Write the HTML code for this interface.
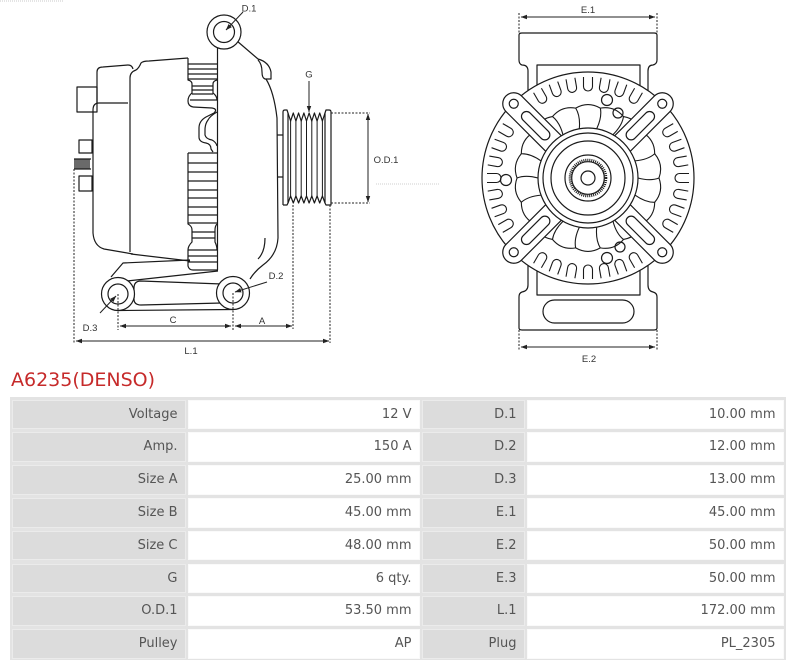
<!DOCTYPE html>
<html><head><meta charset="utf-8"><style>
html,body{margin:0;padding:0;background:#fff;}
body{width:800px;height:667px;position:relative;overflow:hidden;font-family:"DejaVu Sans","Liberation Sans",sans-serif;}
.title{position:absolute;left:11px;top:370.6px;font-size:19px;line-height:19px;color:#c62a2a;white-space:nowrap;}
.frame{position:absolute;left:10px;top:397px;width:776px;height:263px;background:#e3e3e3;}
.r{position:absolute;left:0;width:800px;height:29.8px;}
.c{position:absolute;top:0;height:29.8px;box-sizing:border-box;line-height:27.8px;text-align:right;padding-right:7.5px;font-size:13px;color:#555;white-space:nowrap;}
.l{background:#dcdcdc;border:1px solid #ebebeb;}
.v{background:#fff;border:1px solid #fafafa;}
.c1{left:12px;width:174px;}
.c2{left:188px;width:232px;}
.c3{left:422px;width:103px;}
.c4{left:527px;width:257px;}
svg text{font-family:"Liberation Sans","DejaVu Sans",sans-serif;font-size:9.5px;fill:#333;}
</style></head><body>

<svg width="800" height="365" viewBox="0 0 800 365" style="position:absolute;left:0;top:0">
<defs>
<marker id="a" viewBox="0 0 10 10" refX="9.5" refY="5" markerWidth="6.5" markerHeight="6.5" orient="auto-start-reverse"><path d="M0,1.5 L10,5 L0,8.5z" fill="#222"/></marker>
<path id="slot" d="M-4.5,-101 L-4.5,-91.5 A4.5,4.5 0 0 0 4.5,-91.5 L4.5,-101"/>
<path id="blade" d="M-8.7,-49.2 Q-7.5,-62 -12.3,-69.9 Q0,-77 12.3,-69.9"/>
<g id="arm">
<path d="M-11,-44 L-11,-105 A11,11 0 0 1 11,-105 L11,-44" fill="#fff"/>
<circle cx="0" cy="-105" r="4.5" fill="#fff"/>
<rect x="-5" y="-92" width="10" height="36" rx="5" fill="#fff"/>
</g>
</defs>

<!-- faint marks -->
<path d="M0,1 L63,1" stroke="#c8c8c8" stroke-width="1" stroke-dasharray="1 1" fill="none"/>
<path d="M376,184 L440,184" stroke="#cfcfcf" stroke-width="1" stroke-dasharray="1 1" fill="none"/>

<!-- LEFT VIEW -->
<g fill="none" stroke="#1a1a1a" stroke-width="1.2" stroke-linejoin="round">
<rect x="77" y="87" width="20" height="25" fill="#fff"/>
<rect x="79" y="140" width="13" height="13"/>
<rect x="79" y="176" width="13" height="15"/>
<path d="M74,159 L91,159 M74,169 L91,169 M75,159 L75,169 M77,159 L77,169 M79,159 L79,169 M81,159 L81,169 M83,159 L83,169 M85,159 L85,169 M87,159 L87,169 M89,159 L89,169" stroke-width="1.3"/>
<path d="M97,103 L97,72 Q97,67 103,67 L128,65 Q132,65 133,69"/>
<path d="M128,103 L99,103 Q93,103 93,110 L93,233 Q94,246 104,249 L133,254"/>
<path d="M130,252 L130,78 Q130,72 136,70 Q139,68 141,63 Q143,61 149,61 L188,58"/>
<path d="M131,254 L190,261"/>
<path d="M188,58 L188,80 Q192,81 192,84 L192,93 Q188,96 188,101 Q188,106 193,107"/>
<path d="M188,64 L217,64 M188,69 L217,69 M188,74 L217,74 M188,79 L217,79 M192,86 L213,86 M192,90 L213,90 M192,94 L213,94 M190,100 L217,100"/>
<path d="M217,80 Q213,81 213,84 L213,93 Q217,96 217,100"/>
<path d="M193,107 L212,108 Q218,109 214,113 L206,117 Q199,121 199,128 L199,137 Q199,142 206,143 Q211,144 211,149 L213,152"/>
<path d="M217,112 Q210,116 208,120 Q205,124 205,130 L205,135 Q206,139 212,140 Q216,142 217,146"/>
<path d="M188,153 L188,224 Q192,226 192,230 L192,242 Q188,246 188,250 L188,266 Q189,270 193,270 L218,270"/>
<path d="M188,153 L217,153 M188,163 L217,163 M188,172 L217,172 M188,181 L217,181 M188,190 L217,190 M188,198 L217,198 M188,207 L217,207 M188,215 L217,215 M188,223 L217,223 M192,232 L215,232 M192,238 L215,238 M188,250 L217,250 M188,256 L217,256 M188,262 L217,262"/>
<path d="M217,224 Q215,226 215,230 L215,242 Q217,246 217,250"/>
<path d="M217.5,47 L217.5,270"/>
<path d="M237,41 L258,59 Q269,62 271,72 L271,79 L265,79 Q262,78 262,72 Q262,64 258,60"/>
<path d="M266,79 Q274,92 277,118 L278,238 Q277,255 263,265 Q255,271 250,279"/>
<path d="M265,238 Q265,252 258,259"/>
<path d="M277,135 L283,135 M277,177 L283,177"/>
<path d="M283,205 L283,112 Q283,110 285,110 L287,110 L288,113 L288,203 L287,205 L283,205" fill="#fff"/>
<path d="M325,113 L326,110 L329,110 Q331,110 331,112 L331,205 L326,205 L325,203 Z" fill="#fff"/>
<path d="M288,113 L290.6,121 L293.3,113 L295.9,121 L298.6,113 L301.2,121 L303.9,113 L306.5,121 L309.1,113 L311.8,121 L314.4,113 L317.1,121 L319.7,113 L322.4,121 L325,113"/>
<path d="M288,203 L290.6,196 L293.3,203 L295.9,196 L298.6,203 L301.2,196 L303.9,203 L306.5,196 L309.1,203 L311.8,196 L314.4,203 L317.1,196 L319.7,203 L322.4,196 L325,203"/>
<path d="M290.6,121 L290.6,196 M295.9,121 L295.9,196 M301.2,121 L301.2,196 M306.5,121 L306.5,196 M311.8,121 L311.8,196 M317.1,121 L317.1,196 M322.4,121 L322.4,196" stroke-width="1"/>
<path d="M111,277 L123,263 L190,260"/>
<path d="M127,281 L218,271"/>
<path d="M222,284 L141,281 Q134,281 134,288 L134,299 Q134,305 141,305 L222,303"/>
<path d="M118,310.5 L233,309.5"/>
<circle cx="224" cy="32" r="17" fill="#fff"/>
<circle cx="224" cy="32" r="10.5"/>
<circle cx="118" cy="294" r="16.5" fill="#fff"/>
<circle cx="118" cy="294" r="10"/>
<circle cx="233" cy="293" r="16.5" fill="#fff"/>
<circle cx="233" cy="293" r="10"/>
</g>

<g fill="none" stroke="#222" stroke-width="1">
<path d="M74,169 L74,343 M330,205 L330,343 M293,205 L293,329 M233,293 L233,330 M118,294 L118,330 M331,113 L370,113 M331,203 L370,203" stroke-dasharray="2 1.5"/>
<path d="M76,341 L329,341" marker-start="url(#a)" marker-end="url(#a)"/>
<path d="M120,326 L231,326" marker-start="url(#a)" marker-end="url(#a)"/>
<path d="M235,326 L292,326" marker-start="url(#a)" marker-end="url(#a)"/>
<path d="M368,114 L368,202" marker-start="url(#a)" marker-end="url(#a)"/>
<path d="M309,81 L309,112" marker-end="url(#a)"/>
<path d="M243,12 L226,30" marker-end="url(#a)"/>
<path d="M267,282 L235,292" marker-end="url(#a)"/>
<path d="M100,313 L116,296" marker-end="url(#a)"/>
</g>
<text x="249" y="11.5" text-anchor="middle">D.1</text>
<text x="309" y="77.5" text-anchor="middle">G</text>
<text x="386" y="163" text-anchor="middle">O.D.1</text>
<text x="276" y="279" text-anchor="middle">D.2</text>
<text x="90" y="331" text-anchor="middle">D.3</text>
<text x="173" y="323" text-anchor="middle">C</text>
<text x="262" y="324" text-anchor="middle">A</text>
<text x="191" y="354" text-anchor="middle">L.1</text>

<!-- RIGHT VIEW -->
<g fill="none" stroke="#1a1a1a" stroke-width="1.2" stroke-linejoin="round">
<path d="M528,92 L528,71 Q528,65 522,65 Q519,64 519,60 L519,35 Q519,33 522,33 L654,33 Q657,33 657,35 L657,60 Q657,64 653,65 Q648,65 648,71 L648,92" fill="#fff"/>
<path d="M537,92 L537,65 L640,65 L640,92"/>
<path d="M528,262 L528,285 Q528,291 522,292 Q519,293 519,297 L519,328 Q519,330 522,330 L654,330 Q657,330 657,328 L657,297 Q657,293 653,292 Q648,291 648,285 L648,262" fill="#fff"/>
<path d="M537,262 L537,295 L640,295 L640,262"/>
<rect x="543" y="300" width="91" height="23" rx="11.5"/>
<circle cx="588" cy="178" r="106" fill="#fff"/>
<g transform="translate(588 178)" stroke-width="1.1">
<use href="#slot" transform="rotate(-30)"/><use href="#slot" transform="rotate(-20)"/><use href="#slot" transform="rotate(-10)"/><use href="#slot" transform="rotate(0)"/><use href="#slot" transform="rotate(10)"/><use href="#slot" transform="rotate(20)"/><use href="#slot" transform="rotate(30)"/>
<use href="#slot" transform="rotate(60)"/><use href="#slot" transform="rotate(70)"/><use href="#slot" transform="rotate(80)"/><use href="#slot" transform="rotate(90)"/><use href="#slot" transform="rotate(100)"/><use href="#slot" transform="rotate(110)"/><use href="#slot" transform="rotate(120)"/>
<use href="#slot" transform="rotate(150)"/><use href="#slot" transform="rotate(160)"/><use href="#slot" transform="rotate(170)"/><use href="#slot" transform="rotate(180)"/><use href="#slot" transform="rotate(190)"/><use href="#slot" transform="rotate(200)"/><use href="#slot" transform="rotate(210)"/>
<use href="#slot" transform="rotate(240)"/><use href="#slot" transform="rotate(250)"/><use href="#slot" transform="rotate(260)"/><use href="#slot" transform="rotate(270)"/><use href="#slot" transform="rotate(280)"/><use href="#slot" transform="rotate(290)"/><use href="#slot" transform="rotate(300)"/>
<use href="#blade" transform="rotate(0)"/><use href="#blade" transform="rotate(20)"/><use href="#blade" transform="rotate(40)"/><use href="#blade" transform="rotate(60)"/><use href="#blade" transform="rotate(80)"/><use href="#blade" transform="rotate(100)"/><use href="#blade" transform="rotate(120)"/><use href="#blade" transform="rotate(140)"/><use href="#blade" transform="rotate(160)"/><use href="#blade" transform="rotate(180)"/><use href="#blade" transform="rotate(200)"/><use href="#blade" transform="rotate(220)"/><use href="#blade" transform="rotate(240)"/><use href="#blade" transform="rotate(260)"/><use href="#blade" transform="rotate(280)"/><use href="#blade" transform="rotate(300)"/><use href="#blade" transform="rotate(320)"/><use href="#blade" transform="rotate(340)"/>
</g>
<circle cx="607" cy="100" r="5.5"/>
<circle cx="618" cy="113" r="5"/>
<circle cx="506" cy="180" r="5.5"/>
<circle cx="620" cy="247" r="5"/>
<circle cx="607" cy="258" r="5.5"/>
<g transform="translate(588 178)">
<use href="#arm" transform="rotate(-45)"/><use href="#arm" transform="rotate(45)"/><use href="#arm" transform="rotate(135)"/><use href="#arm" transform="rotate(225)"/>
<circle cx="0" cy="0" r="50" fill="#fff"/>
<circle cx="0" cy="0" r="45"/>
<circle cx="0" cy="0" r="37"/>
<circle cx="0" cy="0" r="23"/>
<circle cx="0" cy="0" r="18" stroke-width="2.6" stroke-dasharray="1 1"/>
<circle cx="0" cy="0" r="16.3" fill="#fff"/>
<circle cx="0" cy="0" r="7"/>
</g>
</g>
<g fill="none" stroke="#222" stroke-width="1">
<path d="M519,13 L519,33 M657,13 L657,33 M519,330 L519,351 M657,330 L657,351" stroke-dasharray="2 1.5"/>
<path d="M521,17 L655,17" marker-start="url(#a)" marker-end="url(#a)"/>
<path d="M521,347 L655,347" marker-start="url(#a)" marker-end="url(#a)"/>
</g>
<text x="588" y="13" text-anchor="middle">E.1</text>
<text x="589" y="362" text-anchor="middle">E.2</text>
</svg>

<div class="title">A6235(DENSO)</div>

<div class="frame"></div>
<div class="r" style="top:399.5px"><div class="c l c1">Voltage</div><div class="c v c2">12 V</div><div class="c l c3">D.1</div><div class="c v c4">10.00 mm</div></div>
<div class="r" style="top:432.3px"><div class="c l c1">Amp.</div><div class="c v c2">150 A</div><div class="c l c3">D.2</div><div class="c v c4">12.00 mm</div></div>
<div class="r" style="top:465.1px"><div class="c l c1">Size A</div><div class="c v c2">25.00 mm</div><div class="c l c3">D.3</div><div class="c v c4">13.00 mm</div></div>
<div class="r" style="top:497.9px"><div class="c l c1">Size B</div><div class="c v c2">45.00 mm</div><div class="c l c3">E.1</div><div class="c v c4">45.00 mm</div></div>
<div class="r" style="top:530.7px"><div class="c l c1">Size C</div><div class="c v c2">48.00 mm</div><div class="c l c3">E.2</div><div class="c v c4">50.00 mm</div></div>
<div class="r" style="top:563.5px"><div class="c l c1">G</div><div class="c v c2">6 qty.</div><div class="c l c3">E.3</div><div class="c v c4">50.00 mm</div></div>
<div class="r" style="top:596.3px"><div class="c l c1">O.D.1</div><div class="c v c2">53.50 mm</div><div class="c l c3">L.1</div><div class="c v c4">172.00 mm</div></div>
<div class="r" style="top:629.1px"><div class="c l c1">Pulley</div><div class="c v c2">AP</div><div class="c l c3">Plug</div><div class="c v c4">PL_2305</div></div>

</body></html>
